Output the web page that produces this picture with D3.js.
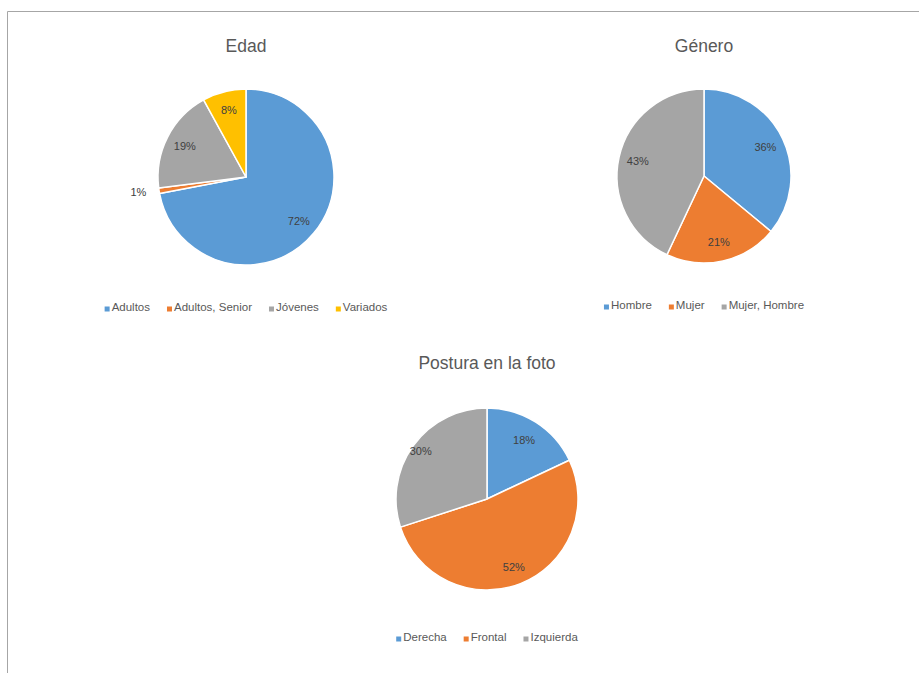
<!DOCTYPE html>
<html>
<head>
<meta charset="utf-8">
<script src="https://cdn.jsdelivr.net/npm/d3@7"></script>
<style>
  html, body { margin: 0; padding: 0; background: #fff; }
  svg { display: block; font-family: "Liberation Sans", Arial, sans-serif; }
</style>
</head>
<body>
<svg id="chart" width="919" height="673"></svg>
<script>
// Age breakdown
const edadCategories = ["Adultos", "Adultos, Senior", "Jóvenes", "Variados"];
const edadValues = [72, 1, 19, 8];

// Gender breakdown
const generoCategories = ["Hombre", "Mujer", "Mujer, Hombre"];
const generoValues = [36, 21, 43];

// Pose in the photo
const posturaCategories = ["Derecha", "Frontal", "Izquierda"];
const posturaValues = [18, 52, 30];

const palette = ["#5B9BD5", "#ED7D31", "#A5A5A5", "#FFC000"];

const svg = d3.select("#chart");

// Frame lines (top and left edges)
svg.append("line").attr("x1", 7.5).attr("y1", 11.5).attr("x2", 919).attr("y2", 11.5)
  .attr("stroke", "#a6a6a6").attr("stroke-width", 1);
svg.append("line").attr("x1", 7.5).attr("y1", 11.5).attr("x2", 7.5).attr("y2", 673)
  .attr("stroke", "#a6a6a6").attr("stroke-width", 1);

function drawPie(cfg) {
  const g = svg.append("g");
  g.append("text")
    .attr("x", cfg.cx).attr("y", cfg.titleY)
    .attr("text-anchor", "middle")
    .attr("font-size", 17.5)
    .attr("fill", "#595959")
    .text(cfg.title);

  const color = d3.scaleOrdinal().domain(cfg.categories).range(palette);
  const data = cfg.categories.map((c, i) => ({ cat: c, value: cfg.values[i] }));
  const pie = d3.pie().value(d => d.value).sort(null);
  const arcs = pie(data);
  const arc = d3.arc().innerRadius(0).outerRadius(cfg.r);
  const outerArc = d3.arc().innerRadius(cfg.r * 1.1).outerRadius(cfg.r * 1.1);

  const pg = g.append("g").attr("transform", `translate(${cfg.cx},${cfg.cy})`);
  pg.selectAll("path").data(arcs).join("path")
    .attr("d", arc)
    .attr("fill", d => color(d.data.cat))
    .attr("stroke", "#fff")
    .attr("stroke-width", 1.5)
    .attr("stroke-linejoin", "round");

  const total = d3.sum(cfg.values);
  pg.selectAll("text.lbl").data(arcs).join("text")
    .attr("class", "lbl")
    .each(function (d, i) {
      const small = d.data.value / total < 0.03;
      const k = cfg.labelR ? cfg.labelR[i] : 0.78;
      const la = d3.arc().innerRadius(cfg.r * k).outerRadius(cfg.r * k);
      const p = small ? outerArc.centroid(d) : la.centroid(d);
      d3.select(this)
        .attr("x", p[0] + (small ? -4 : 0))
        .attr("y", p[1])
        .attr("text-anchor", small ? "end" : "middle");
    })
    .attr("dy", "0.35em")
    .attr("font-size", 11)
    .attr("fill", "#404040")
    .text(d => Math.round(d.data.value / total * 100) + "%");

  // Legend, centered under the pie
  const lg = g.append("g");
  const items = lg.selectAll("g").data(cfg.categories).join("g");
  items.append("rect")
    .attr("width", 5).attr("height", 5)
    .attr("y", -4.5)
    .attr("fill", d => color(d));
  items.append("text")
    .attr("x", 7).attr("y", 0)
    .attr("font-size", 11.5)
    .attr("fill", "#595959")
    .text(d => d);
  let x = 0;
  const gap = 17;
  items.each(function () {
    const w = d3.select(this).select("text").node().getComputedTextLength() + 7;
    d3.select(this).attr("transform", `translate(${x},0)`);
    x += w + gap;
  });
  const totalW = x - gap;
  lg.attr("transform", `translate(${cfg.cx - totalW / 2},${cfg.legendY})`);
}

drawPie({ title: "Edad", categories: edadCategories, values: edadValues,
  cx: 246, cy: 177, r: 88, titleY: 52, legendY: 311 });
drawPie({ title: "Género", categories: generoCategories, values: generoValues,
  cx: 704, cy: 176, r: 87, titleY: 52, legendY: 309 });
drawPie({ title: "Postura en la foto", categories: posturaCategories, values: posturaValues,
  cx: 487, cy: 499, r: 91, titleY: 369, legendY: 641, labelR: [0.76, 0.8, 0.9] });
</script>
</body>
</html>
